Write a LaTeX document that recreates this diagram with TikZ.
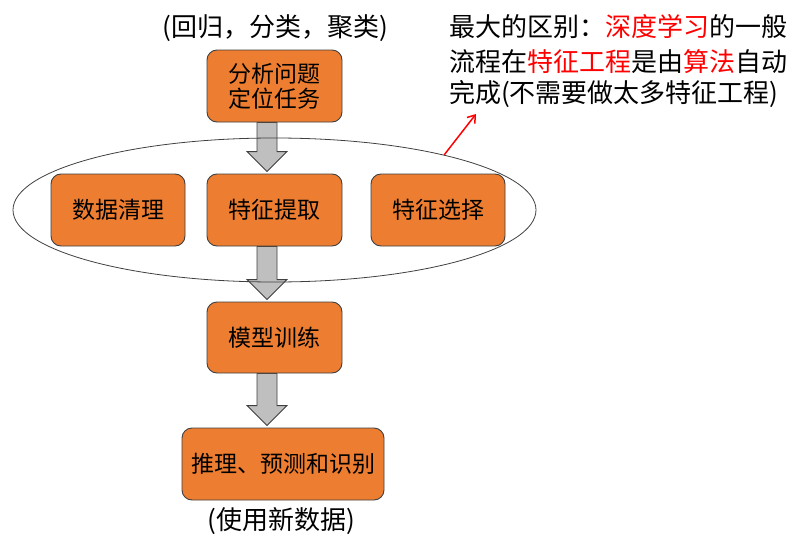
\documentclass[tikz,border=0pt]{standalone}
\usepackage{fontspec}
\setmainfont{Noto Sans CJK SC}
\usetikzlibrary{calc,shapes.geometric,arrows.meta}
\pgfdeclarelayer{bg}
\pgfsetlayers{bg,main}
\definecolor{boxorange}{HTML}{ED7D31}
\definecolor{boxedge}{HTML}{404040}
\definecolor{arrowgray}{HTML}{BFBFBF}
\definecolor{redtext}{HTML}{FF0000}
\newcommand\blkarrow[3]{%
  % #1 source node, #2 target node, #3 x-reference coordinate
  \draw[blockarr]
    ($(#3|-#1.south)+(-10,0)$) --
    ($(#3|-#2.north)+(-10,-22)$) --
    ($(#3|-#2.north)+(-20,-22)$) --
    ($(#3|-#2.north)+(0,-2)$) --
    ($(#3|-#2.north)+(20,-22)$) --
    ($(#3|-#2.north)+(10,-22)$) --
    ($(#3|-#1.south)+(10,0)$) -- cycle;}
\begin{document}
\begin{tikzpicture}[x=1pt,y=-1pt,
  procbox/.style={draw=boxedge, line width=0.9pt, fill=boxorange, rounded corners=10pt,
    inner sep=0pt, align=center, font=\fontsize{23}{25}\selectfont},
  blockarr/.style={draw=boxedge, line width=0.9pt, fill=arrowgray, line join=miter},
  plaintext/.style={inner sep=0pt, font=\fontsize{26}{33}\selectfont,
    text height=22.9pt, text depth=3.1pt}]
\useasboundingbox (0,0) rectangle (801,546);

\coordinate (ax) at (267,0);

\node[draw=boxedge, line width=0.8pt, ellipse, minimum width=523pt, minimum height=144pt, inner sep=0pt]
  (ell) at (274.5,210) {};

\node[procbox, minimum width=135pt, minimum height=72pt] (bA) at (274.5,86) {分析问题\\定位任务};
\node[procbox, minimum width=134pt, minimum height=72pt] (bC) at (118,210) {数据清理};
\node[procbox, minimum width=135pt, minimum height=72pt] (bE) at (274.5,210) {特征提取};
\node[procbox, minimum width=134pt, minimum height=72pt] (bS) at (438,210) {特征选择};
\node[procbox, minimum width=135pt, minimum height=71pt] (bM) at (274.5,337.5) {模型训练};
\node[procbox, minimum width=202pt, minimum height=72pt] (bI) at (283,464) {推理、预测和识别};

\node[plaintext] (top) at (275,27) {(回归，分类，聚类)};
\node[plaintext] (bot) at (281,520) {(使用新数据)};

\node[plaintext, anchor=west] (n1) at (449,27) {最大的区别：\textcolor{redtext}{深度学习}的一般};
\node[plaintext, anchor=west] (n2) at (449,62) {流程在\textcolor{redtext}{特征工程}是由\textcolor{redtext}{算法}自动};
\node[plaintext, anchor=west] (n3) at (449,93) {完成(不需要做太多特征工程)};

\begin{pgfonlayer}{bg}
\fill[white] (0,0) rectangle (801,546);
\blkarrow{bA}{bE}{ax}
\blkarrow{bE}{bM}{ax}
\blkarrow{bM}{bI}{ax}
\end{pgfonlayer}

\coordinate (redtip) at (476,114);
\draw[redtext, line width=1.5pt, -{Straight Barb[length=7pt,width=10pt]}] (ell.18) -- (redtip);
\end{tikzpicture}
\end{document}
